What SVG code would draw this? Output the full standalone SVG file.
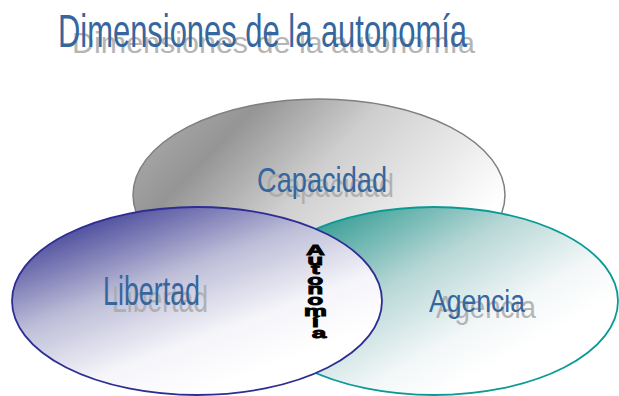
<svg xmlns="http://www.w3.org/2000/svg" width="619" height="396" viewBox="0 0 619 396">
<defs>
<linearGradient id="gCap" x1="0.05" y1="0.15" x2="0.95" y2="0.6">
<stop offset="0" stop-color="#a8a8a8"/>
<stop offset="0.2" stop-color="#959595"/>
<stop offset="0.5" stop-color="#cfcfcf"/>
<stop offset="1" stop-color="#ffffff"/>
</linearGradient>
<linearGradient id="gLib" x1="0.15" y1="0.1" x2="0.7" y2="0.85">
<stop offset="0" stop-color="#4a4a9c"/>
<stop offset="0.4" stop-color="#bdbdd8"/>
<stop offset="0.75" stop-color="#f5f5fa"/>
<stop offset="1" stop-color="#ffffff"/>
</linearGradient>
<linearGradient id="gAge" x1="0.08" y1="0.15" x2="0.75" y2="0.75">
<stop offset="0" stop-color="#2d9990"/>
<stop offset="0.45" stop-color="#b7d7d6"/>
<stop offset="0.8" stop-color="#f3f7f8"/>
<stop offset="1" stop-color="#ffffff"/>
</linearGradient>
<style>
.lbl{font-family:"Liberation Sans",Arial,sans-serif;fill:#36669e;}
.sh{font-family:"Liberation Sans",Arial,sans-serif;fill:#a9a9a9;opacity:0.85;}
.aut{font-family:"Liberation Sans",Arial,sans-serif;font-weight:bold;font-size:15px;fill:#000;stroke:#000;stroke-width:0.8;text-anchor:middle;}
</style>
</defs>
<rect width="619" height="396" fill="#ffffff"/>

<g id="title">
<text class="sh" font-size="47" textLength="403" lengthAdjust="spacingAndGlyphs" transform="translate(72,53) scale(1,0.62)" x="0" y="0">Dimensiones de la autonomía</text>
<text class="lbl" font-size="47" textLength="409" lengthAdjust="spacingAndGlyphs" x="58" y="47">Dimensiones de la autonomía</text>
</g>

<g id="capacidad">
<ellipse cx="319" cy="195" rx="186" ry="96" fill="url(#gCap)" stroke="#7f7f7f" stroke-width="1.5"/>
<text class="sh" font-size="34" textLength="128" lengthAdjust="spacingAndGlyphs" x="266" y="197">Capacidad</text>
<text class="lbl" font-size="35" textLength="130" lengthAdjust="spacingAndGlyphs" x="257" y="192">Capacidad</text>
</g>

<g id="agencia">
<ellipse cx="434" cy="301" rx="184" ry="94" fill="url(#gAge)" stroke="#0a9a96" stroke-width="1.8"/>
<text class="sh" font-size="31" textLength="100" lengthAdjust="spacingAndGlyphs" x="436" y="318">Agencia</text>
<text class="lbl" font-size="31" textLength="96" lengthAdjust="spacingAndGlyphs" x="429" y="312">Agencia</text>
</g>

<g id="libertad">
<ellipse cx="197" cy="301" rx="185" ry="94" fill="url(#gLib)" stroke="#2d2d94" stroke-width="1.8"/>
<text class="sh" font-size="37" textLength="96" lengthAdjust="spacingAndGlyphs" x="112" y="312">Libertad</text>
<text class="lbl" font-size="40" textLength="97" lengthAdjust="spacingAndGlyphs" x="103" y="305">Libertad</text>
</g>

<g id="autonomia">
<text class="aut" transform="translate(319,0) scale(1.75,1)">
<tspan x="0" y="255">A</tspan>
<tspan x="0" y="265">u</tspan>
<tspan x="0" y="274">t</tspan>
<tspan x="0" y="285">o</tspan>
<tspan x="0" y="294">n</tspan>
<tspan x="0" y="305">o</tspan>
<tspan x="0" y="316">m</tspan>
<tspan x="0" y="327">í</tspan>
<tspan x="0" y="338">a</tspan>
</text>
</g>

<g id="connectors"></g>
</svg>
